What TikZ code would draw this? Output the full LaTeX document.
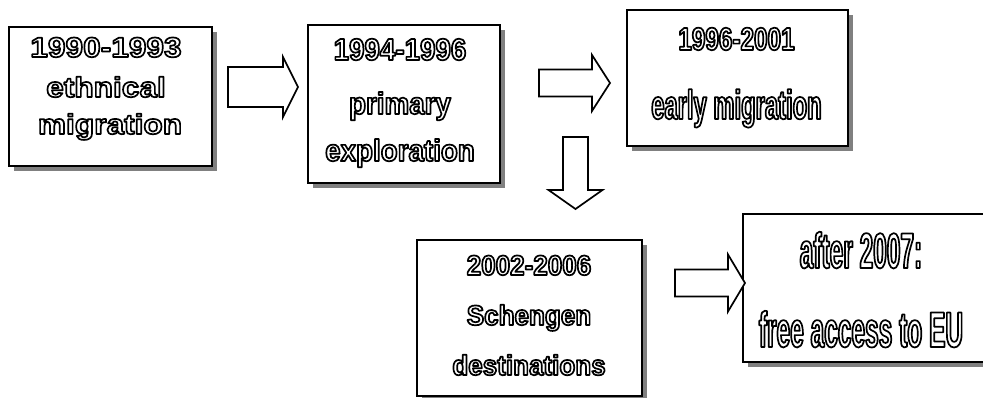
\documentclass[tikz,border=0pt]{standalone}
\usepackage{fontspec}
\usetikzlibrary{shadows}

% hollow letters: white fill, black outline
\newcommand\hollow[1]{\special{pdf:literal 2 Tr 0 G 1.7 w 1 j}#1\special{pdf:literal 0 Tr}}
\newcommand\eraface[2]{\fontspec[FakeStretch=#1]{Liberation Sans}\bfseries\fontsize{#2}{#2}\selectfont}
% block arrow: tail centre, length, head length, half shaft, half head, angle
\newcommand\fatarrow[6]{%
  \draw[bigarrow,shift={#1},rotate=#6]
    (0,-#4) -- ({#2-#3},-#4) -- ({#2-#3},-#5) -- (#2,0) -- ({#2-#3},#5)
    -- ({#2-#3},#4) -- (0,#4) -- cycle;}

\tikzset{
  panel/.style={draw, line width=1.8pt, fill=white,
    drop shadow={shadow xshift=5pt, shadow yshift=-5pt, fill=black!50, opacity=1}},
  bigarrow/.style={draw, line width=1.7pt, fill=white, line join=miter},
  era/.style={text=white, anchor=base, inner sep=0pt},
}

\begin{document}
\begin{tikzpicture}[x=1pt,y=-1pt]
  \useasboundingbox (0,0) rectangle (983,398);
  \clip (0,0) rectangle (983,398);

  % boxes
  \node[panel, minimum width=203pt, minimum height=139pt] (ethnic) at (110.5,96.5) {};
  \node[panel, minimum width=192pt, minimum height=158pt] (explore) at (404,104) {};
  \node[panel, minimum width=221pt, minimum height=136pt] (early) at (737.5,78) {};
  \node[panel, minimum width=225pt, minimum height=156pt] (schengen) at (529.5,318) {};
  \node[panel, minimum width=252pt, minimum height=148pt] (eu) at (869,288) {};

  % texts
  \begin{scope}[every node/.style={era, font=\eraface{1.13}{28}}]
    \node (ethnic1) at (106,57) {\hollow{1990-1993}};
    \node (ethnic2) at (106,97) {\hollow{ethnical}};
    \node (ethnic3) at (110,134) {\hollow{migration}};
  \end{scope}
  \begin{scope}[every node/.style={era, font=\eraface{0.91}{30.5}}]
    \node (explore1) at (400,60) {\hollow{1994-1996}};
    \node (explore2) at (400,114) {\hollow{primary}};
    \node (explore3) at (400,161) {\hollow{exploration}};
  \end{scope}
  \node[era, font=\eraface{0.76}{32}] (early1) at (736.5,50) {\hollow{1996-2001}};
  \node[era, font=\eraface{0.58}{41}] (early2) at (736.5,119) {\hollow{early migration}};
  \begin{scope}[every node/.style={era, font=\eraface{0.93}{28}}]
    \node (schengen1) at (529,275) {\hollow{2002-2006}};
    \node (schengen2) at (529,325) {\hollow{Schengen}};
    \node (schengen3) at (529,375) {\hollow{destinations}};
  \end{scope}
  \begin{scope}[every node/.style={era, font=\eraface{0.49}{50}}]
    \node (eu1) at (861,268) {\hollow{after 2007:}};
    \node (eu2) at (861,347) {\hollow{free access to EU}};
  \end{scope}

  % arrows
  \fatarrow{(228,87)}{70}{15}{20}{30}{0}
  \fatarrow{(539,83)}{71}{18}{13.5}{28}{0}
  \fatarrow{(575.5,137)}{72}{19}{12.5}{27}{-90}
  \fatarrow{(675,283)}{70}{17}{13.5}{28.5}{0}
\end{tikzpicture}
\end{document}
